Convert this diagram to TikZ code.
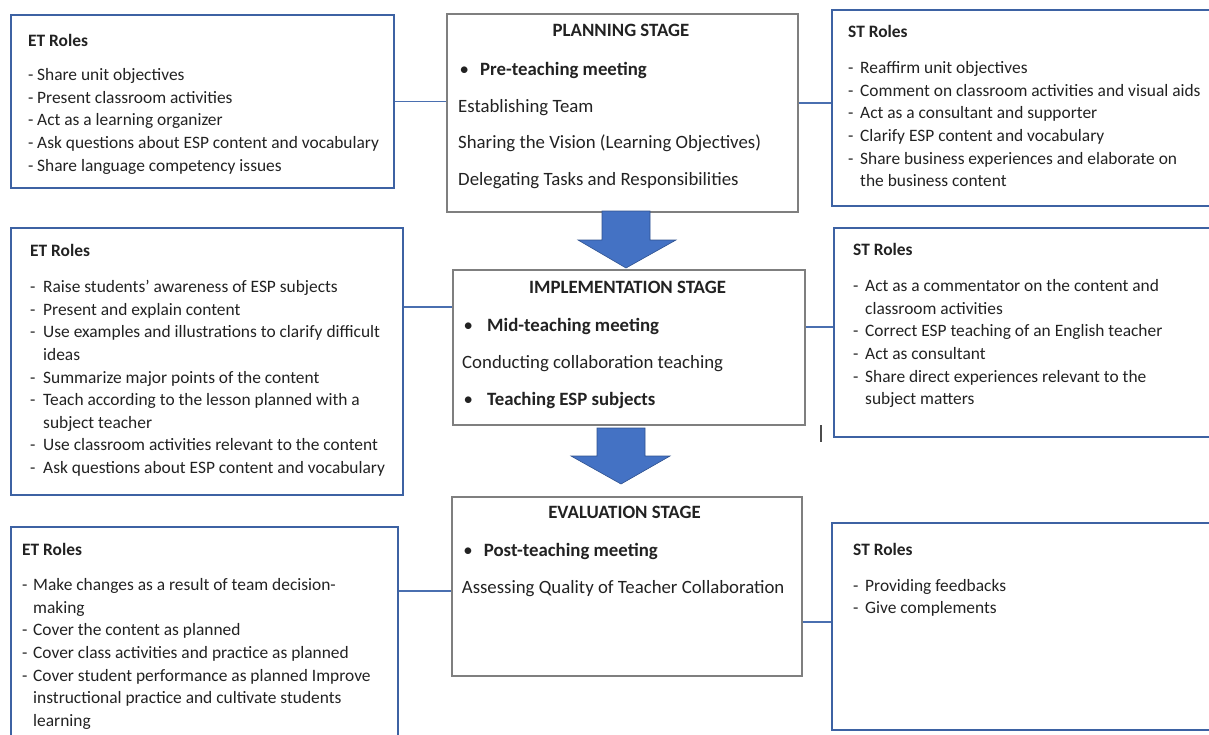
\documentclass[tikz,border=0pt]{standalone}
\usepackage{fontspec}
\setmainfont{Carlito}
\usetikzlibrary{calc}
\definecolor{bbord}{HTML}{3D62A3}
\definecolor{gbord}{HTML}{7F7F7F}
\definecolor{afill}{HTML}{4472C4}
\definecolor{aline}{HTML}{2F528F}
\definecolor{conn}{HTML}{4A6FB0}
\definecolor{txt}{HTML}{222222}
\newlength\dw
\newcommand\dl[1]{\makebox[\dw][l]{-}#1}
\newcommand\cl[1]{\hspace*{\dw}#1}
\newcommand\bl[1]{\makebox[\dw][l]{\hspace{1.5pt}\textbullet}\textbf{#1}}
\begin{document}
\begin{tikzpicture}[x=1pt,y=-1pt,
  rolebox/.style={draw=bbord,line width=1.5pt,inner sep=0pt,anchor=north west},
  stagebox/.style={draw=gbord,line width=1.5pt,inner sep=0pt,anchor=north west},
  lst/.style={anchor=north west,inner sep=0pt,align=left,text=txt,
    font={\fontsize{17.4}{22.6}\selectfont\setlength\dw{#1}}},
  stg/.style={anchor=north west,inner sep=0pt,align=left,text=txt,
    font={\fontsize{18.8}{22.6}\selectfont\setlength\dw{#1}}},
  head/.style={anchor=base,inner sep=0pt,text=txt,font=\fontsize{18.8}{22.6}\selectfont\bfseries},
  link/.style={draw=conn,line width=1.3pt},
  blockarrow/.style={fill=afill,draw=aline,line width=0.6pt}]
\useasboundingbox (0,0) rectangle (1209,734);
% boxes
\node[rolebox,minimum width=383,minimum height=173] (et1) at (10,14) {};
\node[stagebox,minimum width=351,minimum height=198] (plan) at (446,13) {};
\node[rolebox,minimum width=384,minimum height=196] (st1) at (831,9) {};
\node[rolebox,minimum width=392,minimum height=267] (et2) at (10,227) {};
\node[stagebox,minimum width=352,minimum height=155] (impl) at (452,269) {};
\node[rolebox,minimum width=382,minimum height=209] (st2) at (833,227) {};
\node[rolebox,minimum width=387,minimum height=214] (et3) at (10,526) {};
\node[stagebox,minimum width=350,minimum height=179] (eval) at (451,496) {};
\node[rolebox,minimum width=384,minimum height=207] (st3) at (831,522) {};
% connector levels
\coordinate (y1) at (0,101.5);
\coordinate (y2) at (0,103);
\coordinate (y3) at (0,307);
\coordinate (y4) at (0,327);
\coordinate (y5) at (0,591);
\coordinate (y6) at (0,622);
\draw[link] (et1.east |- y1) -- (plan.west |- y1);
\draw[link] (plan.east |- y2) -- (st1.west |- y2);
\draw[link] (et2.east |- y3) -- (impl.west |- y3);
\draw[link] (impl.east |- y4) -- (st2.west |- y4);
\draw[link] (et3.east |- y5) -- (eval.west |- y5);
\draw[link] (eval.east |- y6) -- (st3.west |- y6);
% stray mark
\coordinate (m1) at (821,425);
\coordinate (m2) at (821,442);
\draw[gbord!60!black,line width=1.2pt] (m1) -- (m2);
% block arrows
\draw[blockarrow] (602,211) -- (650,211) -- (650,240) -- (676,240) -- (626,268) -- (578,240) -- (602,240) -- cycle;
\draw[blockarrow] (597,428) -- (645,428) -- (645,456) -- (670,456) -- (621,484) -- (571,456) -- (597,456) -- cycle;
% role texts
\node[lst=9pt] (et1t) at (28,30.7) {\strut\textbf{ET Roles}\\[11.4pt]
\dl{Share unit objectives}\\
\dl{Present classroom activities}\\
\dl{Act as a learning organizer}\\
\dl{Ask questions about ESP content and vocabulary}\\
\dl{Share language competency issues}};
\node[lst=12pt] (st1t) at (848,21.7) {\strut\textbf{ST Roles}\\[13.4pt]
\dl{Reaffirm unit objectives}\\
\dl{Comment on classroom activities and visual aids}\\
\dl{Act as a consultant and supporter}\\
\dl{Clarify ESP content and vocabulary}\\
\dl{Share business experiences and elaborate on}\\
\cl{the business content}};
\node[lst=13pt] (et2t) at (30,240.9) {\strut\textbf{ET Roles}\\[13.2pt]
\dl{Raise students’ awareness of ESP subjects}\\
\dl{Present and explain content}\\
\dl{Use examples and illustrations to clarify difficult}\\
\cl{ideas}\\
\dl{Summarize major points of the content}\\
\dl{Teach according to the lesson planned with a}\\
\cl{subject teacher}\\
\dl{Use classroom activities relevant to the content}\\
\dl{Ask questions about ESP content and vocabulary}};
\node[lst=12pt] (st2t) at (853,239.7) {\strut\textbf{ST Roles}\\[13.4pt]
\dl{Act as a commentator on the content and}\\
\cl{classroom activities}\\
\dl{Correct ESP teaching of an English teacher}\\
\dl{Act as consultant}\\
\dl{Share direct experiences relevant to the}\\
\cl{subject matters}};
\node[lst=11pt] (et3t) at (22,539.2) {\strut\textbf{ET Roles}\\[12.9pt]
\dl{Make changes as a result of team decision-}\\
\cl{making}\\
\dl{Cover the content as planned}\\
\dl{Cover class activities and practice as planned}\\
\dl{Cover student performance as planned Improve}\\
\cl{instructional practice and cultivate students}\\
\cl{learning}};
\node[lst=12pt] (st3t) at (853,539.7) {\strut\textbf{ST Roles}\\[12.9pt]
\dl{Providing feedbacks}\\
\dl{Give complements}};
% stage texts
\node[head] (planh) at (621,36.7) {PLANNING STAGE};
\node[stg=22pt] (plant) at (458,59.2) {\strut\bl{Pre-teaching meeting}\\[14.2pt]
Establishing Team\\[14.2pt]
Sharing the Vision (Learning Objectives)\\[14.2pt]
Delegating Tasks and Responsibilities};
\node[head] (implh) at (627.5,293.3) {IMPLEMENTATION STAGE};
\node[stg=25pt] (implt) at (462,315.9) {\strut\bl{Mid-teaching meeting}\\[14.1pt]
Conducting collaboration teaching\\[14.1pt]
\bl{Teaching ESP subjects}};
\node[head] (evalh) at (624.5,518.3) {EVALUATION STAGE};
\node[stg=22pt] (evalt) at (461.7,540.9) {\strut\bl{Post-teaching meeting}\\[14.1pt]
Assessing Quality of Teacher Collaboration};
\end{tikzpicture}
\end{document}
